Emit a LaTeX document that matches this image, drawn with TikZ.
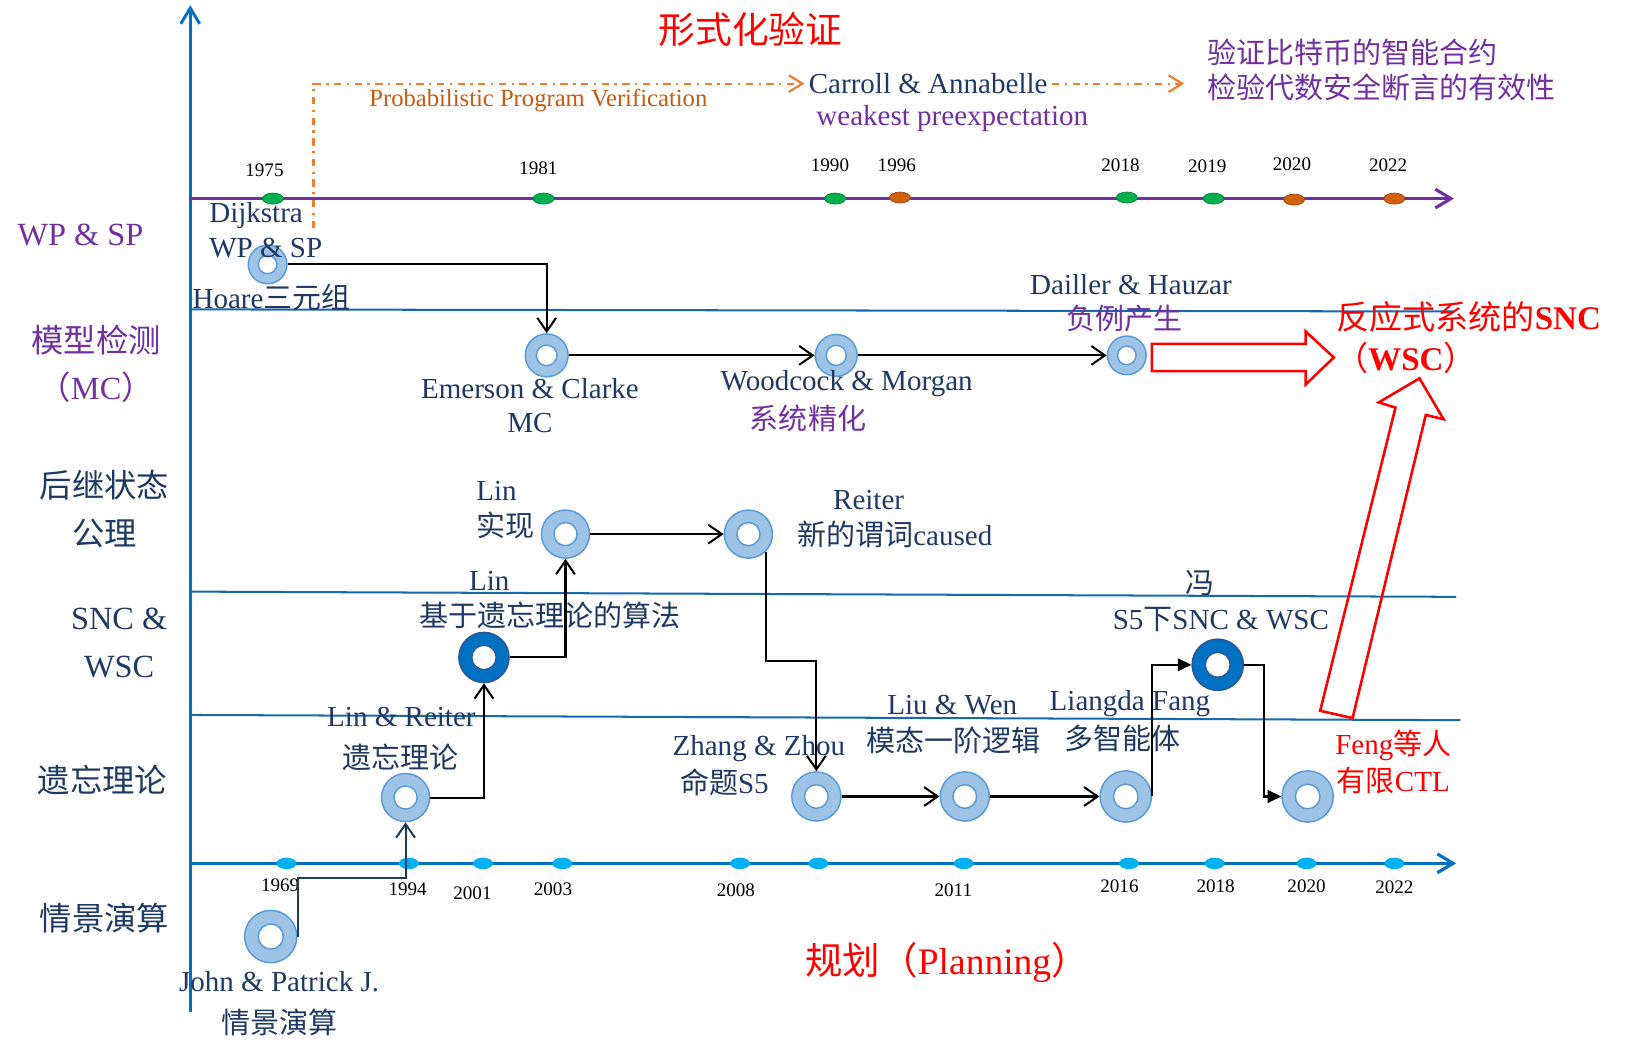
\documentclass[tikz,border=0pt]{standalone}
\usepackage{fontspec}
\setmainfont{Liberation Serif}
\newfontfamily\cjk{Noto Sans CJK SC}
\usetikzlibrary{arrows.meta,shapes.geometric}

\definecolor{axisblue}{RGB}{0,112,192}
\definecolor{laneblue}{RGB}{20,105,175}
\definecolor{tlpurple}{RGB}{112,48,160}
\definecolor{navytext}{RGB}{32,56,100}
\definecolor{pvorange}{RGB}{237,125,49}
\definecolor{pvbrown}{RGB}{197,90,17}
\definecolor{dotgreen}{RGB}{0,176,80}
\definecolor{dotbrown}{RGB}{197,90,17}
\definecolor{dotcyan}{RGB}{0,176,240}
\definecolor{ringfill}{RGB}{157,195,230}
\definecolor{ringedge}{RGB}{91,155,213}
\definecolor{ringdark}{RGB}{0,112,192}
\definecolor{ringdarkedge}{RGB}{47,85,151}

\newcommand{\zh}[1]{{\cjk #1}}
\newcommand{\lbfont}{\fontsize{7.9}{9.4}\selectfont}
\newcommand{\yrfont}{\fontsize{5.2}{6}\selectfont}
\newcommand{\rowfont}{\fontsize{8.8}{13}\selectfont}

\tikzset{
  lab/.style={font=\lbfont,text=navytext,inner sep=1pt},
  yr/.style={font=\yrfont,inner sep=1pt},
  rowlab/.style={font=\rowfont,text=navytext,align=center,inner sep=1pt},
  ring/.style={circle,fill=ringfill,draw=ringedge,line width=0.4pt,inner sep=0pt,minimum size=#1,
    path picture={\draw[ringedge,fill=white,line width=0.4pt] (path picture bounding box.center) circle (0.24*#1);}},
  darkring/.style={circle,fill=ringdark,draw=ringdarkedge,line width=0.4pt,inner sep=0pt,minimum size=#1,
    path picture={\draw[ringdarkedge,fill=white,line width=0.3pt] (path picture bounding box.center) circle (0.24*#1);}},
  gdot/.style={ellipse,fill=dotgreen,draw=dotgreen!75!black,line width=0.2pt,inner sep=0pt,minimum width=0.2cm,minimum height=0.105cm},
  bdot/.style={gdot,fill=dotbrown!80!orange,draw=dotbrown!80!black},
  cdot/.style={ellipse,fill=dotcyan,inner sep=0pt,minimum width=0.19cm,minimum height=0.11cm},
  conn/.style={line width=0.55pt,-{Straight Barb[length=1.3mm,width=1.8mm]}},
  fconn/.style={line width=0.55pt,-{Triangle[length=1.3mm,width=1.2mm]}},
  pvline/.style={pvorange,line width=0.6pt,dash pattern=on 2pt off 1.5pt on 0.6pt off 1.5pt,-{Straight Barb[length=1.3mm,width=1.6mm]}},
  lane/.style={laneblue,line width=0.55pt},
}

\begin{document}
\begin{tikzpicture}[x=0.01cm,y=-0.01cm]
\useasboundingbox (0,0) rectangle (1568,1004);

%axes and lanes
\draw[axisblue,line width=0.8pt,-{Straight Barb[length=1.5mm,width=1.8mm]}] (182,968) -- (182,5);
\draw[lane] (182,296) -- (1392,298);
\draw[lane] (182,566) -- (1393,571);
\draw[lane] (182,684) -- (1397,689);
\draw[tlpurple,line width=0.85pt,-{Straight Barb[length=1.5mm,width=1.8mm]}] (182,190) -- (1391,190);
\draw[axisblue,line width=0.85pt,-{Straight Barb[length=1.5mm,width=1.8mm]}] (182,826) -- (1393,826);

%verification timeline
\node[gdot] (p1975) at (261,190) {}; \node[yr] (y1975) at (253,163) {1975};
\node[gdot] (p1981) at (520,190) {}; \node[yr] (y1981) at (515,161) {1981};
\node[gdot] (p1990) at (799,190) {}; \node[yr] (y1990) at (794,158) {1990};
\node[bdot] (p1996) at (861,189) {}; \node[yr] (y1996) at (858,158) {1996};
\node[gdot] (p2018) at (1078,189) {}; \node[yr] (y2018) at (1072,158) {2018};
\node[gdot] (p2019) at (1161,190) {}; \node[yr] (y2019) at (1155,159) {2019};
\node[bdot] (p2020) at (1238,191) {}; \node[yr] (y2020) at (1236,157) {2020};
\node[bdot] (p2022) at (1334,190) {}; \node[yr] (y2022) at (1328,158) {2022};

%planning timeline
\node[cdot] (q1969) at (274,826) {}; \node[yr] (z1969) at (268,847) {1969};
\node[cdot] (q1994) at (391,826) {}; \node[yr] (z1994) at (390,851) {1994};
\node[cdot] (q2001) at (462,826) {}; \node[yr] (z2001) at (452,855) {2001};
\node[cdot] (q2003) at (538,826) {}; \node[yr] (z2003) at (529,851) {2003};
\node[cdot] (q2008) at (708,826) {}; \node[yr] (z2008) at (704,852) {2008};
\node[cdot] (q2009) at (783,826) {};
\node[cdot] (q2011) at (922,826) {}; \node[yr] (z2011) at (912,852) {2011};
\node[cdot] (q2016) at (1080,826) {}; \node[yr] (z2016) at (1071,848) {2016};
\node[cdot] (q2018) at (1162,826) {}; \node[yr] (z2018) at (1163,848) {2018};
\node[cdot] (q2020) at (1250,826) {}; \node[yr] (z2020) at (1250,848) {2020};
\node[cdot] (q2022) at (1334,826) {}; \node[yr] (z2022) at (1334,849) {2022};

%row titles
\node[font=\fontsize{10}{12}\selectfont,text=red] (title) at (718,28) {\zh{形式化验证}};
\node[rowlab,text=tlpurple] (rwp) at (77,225) {WP \& SP};
\node[rowlab,text=tlpurple] (rmc) at (92,348) {\zh{模型检测}\\\zh{（}MC\zh{）}};
\node[rowlab] (rssa) at (100,487) {\zh{后继状态}\\\zh{公理}};
\node[rowlab] (rsnc) at (114,615) {SNC \&\\WSC};
\node[rowlab] (rfor) at (98,746) {\zh{遗忘理论}};
\node[rowlab] (rsit) at (100,878) {\zh{情景演算}};
\node[font=\fontsize{10.2}{12}\selectfont,text=red] (plan) at (906,921) {\zh{规划（}Planning\zh{）}};

%probabilistic programs
\node[font=\fontsize{6.7}{8}\selectfont,text=pvbrown,inner sep=1pt] (pv) at (515,96) {Probabilistic Program Verification};
\node[lab] (carroll) at (888,80) {Carroll \& Annabelle};
\node[lab,text=tlpurple] (wpe) at (911,113) {weakest preexpectation};
\node[lab,text=tlpurple,anchor=west] (btc) at (1151,50) {\zh{验证比特币的智能合约}};
\node[lab,text=tlpurple,anchor=west] (alg) at (1151,84) {\zh{检验代数安全断言的有效性}};
\coordinate (pvstart) at (300,218);
\coordinate (pvend) at (1133,80);
\draw[pvline] (pvstart) |- (carroll.west);
\draw[pvline] (carroll.east) -- (pvend);

%events
\node[ring=0.37cm] (dij) at (256,253) {};
\node[ring=0.41cm] (emer) at (523,340) {};
\node[ring=0.40cm] (wood) at (800,340) {};
\node[ring=0.37cm] (dail) at (1078,340) {};
\node[ring=0.46cm] (linimp) at (541,511) {};
\node[ring=0.46cm] (reit) at (716,511) {};
\node[darkring=0.48cm] (linalg) at (463,629) {};
\node[ring=0.46cm] (linreit) at (388,763) {};
\node[ring=0.50cm] (john) at (259,896) {};
\node[ring=0.47cm] (zhang) at (781,762) {};
\node[ring=0.47cm] (liu) at (923,762) {};
\node[ring=0.49cm] (liang) at (1077,762) {};
\node[darkring=0.49cm] (fengs) at (1165,636) {};
\node[ring=0.49cm] (fengc) at (1251,762) {};

%event labels
\node[lab,align=left,anchor=west] (dijlab) at (196,220) {Dijkstra\\WP \& SP};
\node[lab,anchor=west] (hoare) at (180,285) {Hoare\zh{三元组}};
\node[lab,align=center] (emlab) at (507,388) {Emerson \& Clarke\\MC};
\node[lab] (woodlab) at (810,367) {Woodcock \& Morgan};
\node[lab,text=tlpurple] (woodzh) at (773,400) {\zh{系统精化}};
\node[lab] (daillab) at (1082,272) {Dailler \& Hauzar};
\node[lab,text=tlpurple] (dailzh) at (1076,305) {\zh{负例产生}};
\node[font=\fontsize{9}{11}\selectfont,text=red,inner sep=1pt] (reactive) at (1405,303) {\zh{反应式系统的}\textbf{SNC}};
\node[font=\fontsize{9}{11}\selectfont,text=red,inner sep=1pt] (wsc) at (1345,342) {\zh{（}\textbf{WSC}\zh{）}};
\node[lab] (linimplab) at (475,470) {Lin};
\node[lab] (linimpzh) at (484,503) {\zh{实现}};
\node[lab] (reitlab) at (831,478) {Reiter};
\node[lab] (reitzh) at (856,511) {\zh{新的谓词}caused};
\node[lab] (linalglab) at (468,556) {Lin};
\node[lab] (linalgzh) at (526,589) {\zh{基于遗忘理论的算法}};
\node[lab] (fengslab) at (1148,558) {\zh{冯}};
\node[lab] (fengszh) at (1168,593) {S5\zh{下}SNC \& WSC};
\node[lab] (linreitlab) at (384,686) {Lin \& Reiter};
\node[lab] (linreitzh) at (383,725) {\zh{遗忘理论}};
\node[lab] (zhanglab) at (726,716) {Zhang \& Zhou};
\node[lab] (zhangzh) at (693,748) {\zh{命题}S5};
\node[lab] (liulab) at (911,675) {Liu \& Wen};
\node[lab] (liuzh) at (912,708) {\zh{模态一阶逻辑}};
\node[lab] (lianglab) at (1081,673) {Liangda Fang};
\node[lab] (liangzh) at (1074,706) {\zh{多智能体}};
\node[lab,text=red] (fengclab) at (1333,713) {Feng\zh{等人}};
\node[lab,text=red] (fengczh) at (1333,747) {\zh{有限}CTL};
\node[lab] (johnlab) at (267,939) {John \& Patrick J.};
\node[lab] (johnzh) at (267,978) {\zh{情景演算}};

%connections
\draw[conn] (dij.east) -| (emer.north);
\draw[conn] (emer.east) -- (wood.west);
\draw[conn] (wood.east) -- (dail.west);
\draw[conn] (linimp.east) -- (reit.west);
\draw[conn] (linalg.east) -| (linimp.south);
\draw[conn] (linreit.east) -| (linalg.south);
\draw[conn,navytext] (john.east) -- ++(0,-56) -| (linreit.south);
\draw[conn] (reit.south east) -- ++(0,105) -| (zhang.north);
\draw[conn] (zhang.east) -- (liu.west);
\draw[conn] (liu.east) -- (liang.west);
\draw[fconn] (liang.east) |- (fengs.west);
\draw[fconn] (fengs.east) -- ++(19,0) |- (fengc.west);

%hollow arrows to reactive systems
\draw[red,line width=0.7pt] (1102,329) -- (1249,329) -- (1249,317) -- (1276,342) -- (1249,368) -- (1249,355) -- (1102,355) -- cycle;
\draw[red,line width=0.7pt] (1263,680) -- (1335,390) -- (1319,385) -- (1358,362) -- (1381,401) -- (1364,397) -- (1294,687) -- cycle;
\end{tikzpicture}
\end{document}
